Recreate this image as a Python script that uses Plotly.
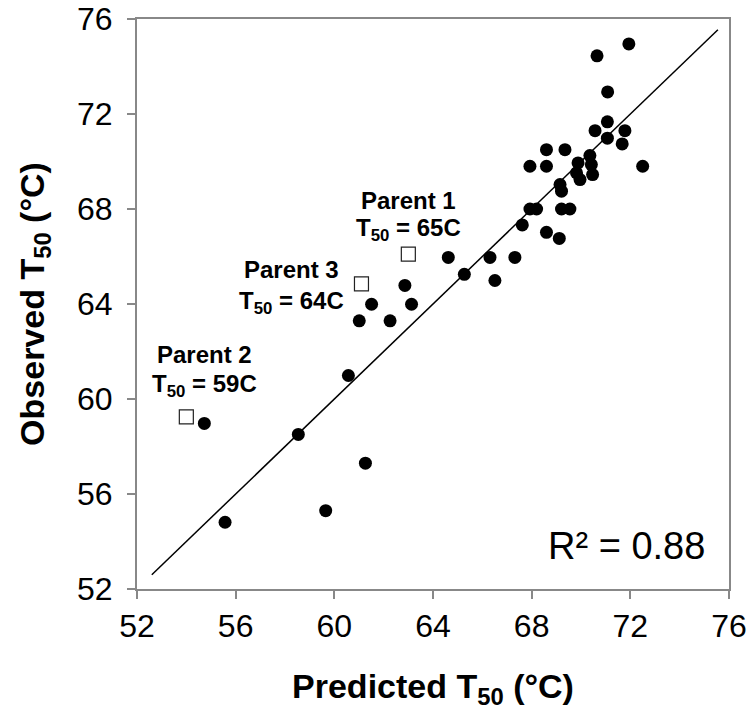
import plotly.graph_objects as go

# Filled circles: predicted vs observed T50
pred = [71.94, 70.65, 71.08, 71.07, 70.57, 71.07, 71.78, 71.67, 72.50, 68.60,
        69.35, 67.93, 68.60, 70.36, 69.88, 70.42, 69.82, 69.96, 70.47, 69.15,
        69.21, 67.93, 68.20, 69.21, 69.55, 67.62, 68.60, 69.12, 66.31, 67.32,
        65.27, 64.62, 66.51, 62.86, 61.51, 63.13, 61.01, 62.26, 60.57, 54.73,
        58.54, 61.26, 59.65, 55.57]
obs = [74.95, 74.45, 72.93, 71.67, 71.30, 70.98, 71.30, 70.74, 69.80, 70.50,
       70.50, 69.80, 69.80, 70.25, 69.94, 69.87, 69.52, 69.24, 69.45, 69.03,
       68.75, 68.00, 68.00, 68.00, 68.00, 67.33, 67.02, 66.76, 65.96, 65.96,
       65.25, 65.96, 64.99, 64.78, 63.99, 63.99, 63.29, 63.29, 60.99, 58.97,
       58.51, 57.30, 55.30, 54.81]

# Parents (open squares)
parent_names = ["Parent 1", "Parent 3", "Parent 2"]
parent_pred = [63.0, 61.1, 54.0]
parent_obs = [66.1, 64.85, 59.25]
parent_t50 = ["65C", "64C", "59C"]

# 1:1 line
fit_x = [52.6, 75.55]
fit_y = [52.6, 75.55]

x_ticks = [52, 56, 60, 64, 68, 72, 76]
y_ticks = [52, 56, 60, 64, 68, 72, 76]
r2_text = "R² = 0.88"

FONT = "Liberation Sans, Arial, sans-serif"

fig = go.Figure()
fig.add_trace(go.Scatter(x=fit_x, y=fit_y, mode="lines",
                         line=dict(color="black", width=1.5), showlegend=False,
                         hoverinfo="skip"))
fig.add_trace(go.Scatter(x=pred, y=obs, mode="markers",
                         marker=dict(symbol="circle", size=13, color="black",
                                     line=dict(width=0)),
                         showlegend=False))
fig.add_trace(go.Scatter(x=parent_pred, y=parent_obs, mode="markers",
                         marker=dict(symbol="square", size=14, color="white",
                                     line=dict(color="#222222", width=1.2)),
                         showlegend=False))

# label offsets (pixels) for each parent: (xshift, name yshift, t50 yshift)
offsets = [(0, 54, 25), (-70, 14, -19), (18, 62, 31)]
for name, px, py, t, (dx, dy1, dy2) in zip(parent_names, parent_pred, parent_obs,
                                            parent_t50, offsets):
    fig.add_annotation(x=px, y=py, xref="x", yref="y", text="<b>%s</b>" % name,
                       showarrow=False, xshift=dx, yshift=dy1,
                       font=dict(family=FONT, size=24, color="black"))
    fig.add_annotation(x=px, y=py, xref="x", yref="y",
                       text="<b>T<sub>50</sub> = %s</b>" % t,
                       showarrow=False, xshift=dx, yshift=dy2,
                       font=dict(family=FONT, size=24, color="black"))

fig.add_annotation(x=0.963, y=0.035, xref="paper", yref="paper", text=r2_text,
                   showarrow=False, xanchor="right", yanchor="bottom",
                   font=dict(family=FONT, size=38, color="black"))

axis_common = dict(range=[52, 76], showgrid=False, zeroline=False,
                   showline=True, linecolor="#888888", linewidth=2, mirror=True,
                   ticks="outside", ticklen=8, tickcolor="#888888", tickwidth=1.5,
                   ticklabeloverflow="allow",
                   tickfont=dict(family=FONT, size=32, color="black"))

fig.update_xaxes(**axis_common, tickvals=x_ticks,
                 title=dict(text="<b>Predicted T<sub>50</sub> (°C)</b>",
                            font=dict(family=FONT, size=34, color="black"),
                            standoff=31))
fig.update_yaxes(**axis_common, tickvals=y_ticks, ticklabelstandoff=8,
                 title=dict(text="<b>Observed T<sub>50</sub> (°C)</b>",
                            font=dict(family=FONT, size=34, color="black"),
                            standoff=22))

fig.update_layout(width=750, height=724, plot_bgcolor="white",
                  paper_bgcolor="white",
                  margin=dict(l=137, r=21, t=19, b=135, autoexpand=False))

fig.write_html("out.html", config={"displayModeBar": False},
               post_script="document.body.style.margin='0px';"
                           "document.body.style.padding='0px';")
